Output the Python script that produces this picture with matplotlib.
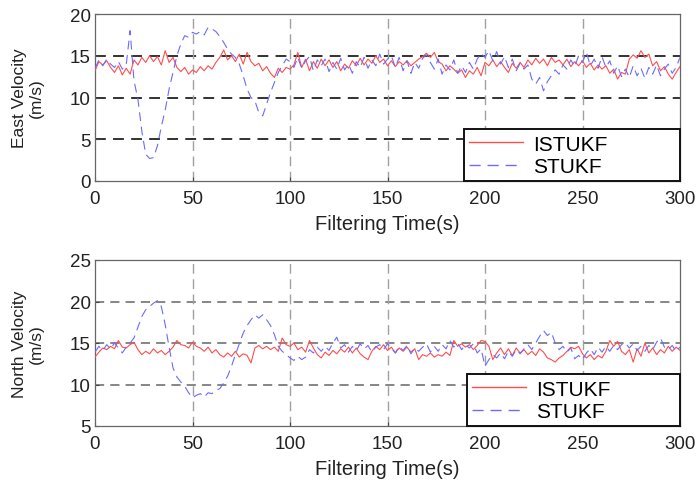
import numpy as np
import matplotlib
matplotlib.use("Agg")
import matplotlib.pyplot as plt

plt.rcParams['font.family'] = ['Liberation Sans', 'DejaVu Sans']

# time axis (s), sampled every 2 s
time_s = list(range(0, 301, 2))

east_istukf = [
    13.2, 14.3, 13.9, 14.4, 13.6, 13.0, 13.8, 12.7, 13.5, 12.8,
    14.5, 13.9, 14.8, 14.2, 15.0, 14.3, 14.9, 13.9, 15.6, 14.2,
    14.8, 13.6, 13.1, 13.6, 12.8, 13.3, 13.0, 13.7, 13.2, 13.8,
    13.4, 14.2, 14.8, 15.7, 14.5, 15.0, 14.3, 15.2, 14.0, 15.4,
    14.3, 13.8, 14.1, 13.2, 13.7, 12.9, 12.4, 13.5, 13.0, 13.6,
    13.4, 13.9, 15.4, 13.6, 14.6, 13.2, 14.3, 13.5, 14.6, 13.8,
    14.5, 13.6, 14.3, 13.2, 14.0, 13.5, 14.4, 13.8, 14.7, 13.9,
    14.6, 14.1, 15.0, 14.2, 14.6, 13.8, 14.4, 13.7, 14.3, 13.9,
    14.4, 13.8, 14.2, 14.6, 14.9, 15.3, 14.8, 15.4, 14.3, 14.0,
    13.2, 13.8, 13.4, 12.9, 13.3, 12.4, 13.2, 12.8, 13.6, 12.6,
    14.2, 13.8, 14.5, 13.7, 14.3, 13.6, 13.0, 14.1, 13.5, 14.2,
    13.6, 14.5, 13.9, 14.7, 14.1, 14.6, 13.8, 14.8, 14.2, 14.5,
    13.9, 14.6, 13.7, 14.3, 13.8, 14.4, 13.6, 14.1, 13.3, 13.9,
    13.4, 13.8, 12.9, 13.4, 12.2, 13.0, 12.8, 14.6, 15.1, 14.7,
    15.6, 14.8, 15.2, 13.8, 14.3, 13.2, 13.7, 12.8, 12.2, 13.0, 13.7,
]

east_stukf = [
    13.5, 14.5, 13.8, 14.6, 14.0, 13.6, 14.3, 13.4, 13.9, 18.0,
    12.0, 9.8, 6.0, 3.2, 2.7, 2.8, 4.2, 6.5, 8.5, 11.0,
    13.0, 15.0, 16.4, 17.4, 17.2, 17.8, 17.6, 17.9, 17.5, 18.4,
    18.2, 17.9, 17.3, 16.6, 15.8, 15.2, 14.8, 14.0, 12.6, 11.0,
    10.0, 9.6, 8.2, 7.8, 9.2, 10.6, 11.8, 13.0, 13.8, 14.6,
    14.3, 13.6, 14.8, 13.5, 14.4, 14.9, 13.2, 14.5, 13.8, 14.6,
    13.1, 14.2, 13.4, 14.7, 13.3, 14.0, 12.9, 14.3, 13.6, 14.8,
    13.5, 14.5, 13.8, 15.2, 14.0, 14.6, 15.0, 13.6, 14.8, 13.2,
    14.4, 12.9, 14.2, 13.5, 14.7, 15.1, 14.2, 13.4, 14.6, 12.8,
    13.9, 13.3, 14.5, 12.9, 13.8, 13.0, 14.2, 13.4, 14.6, 15.3,
    14.8, 15.6, 14.4, 15.5, 14.0, 14.9, 13.6, 14.6, 13.2, 14.1,
    13.4, 13.9, 12.2, 11.6, 12.4, 10.8, 11.9, 12.6, 13.3, 12.8,
    13.9, 13.4, 14.5, 13.7, 15.0, 14.2, 15.4, 13.8, 14.6, 13.5,
    14.9, 13.6, 14.4, 12.9, 13.8, 12.5, 13.4, 12.4, 13.8, 12.6,
    13.5, 12.3, 13.6, 12.8, 13.9, 12.6, 13.4, 14.0, 12.9, 13.6, 14.8,
]

north_istukf = [
    13.3, 13.9, 14.4, 14.2, 14.6, 14.3, 15.3, 14.5, 14.4, 14.8,
    15.1, 14.2, 13.6, 14.0, 13.7, 14.3, 13.8, 14.1, 13.6, 14.0,
    14.5, 15.3, 14.8, 14.7, 14.4, 15.1, 14.6, 14.4, 14.0, 14.5,
    13.8, 14.2, 13.6, 13.3, 13.8, 13.4, 14.0, 13.3, 13.7, 13.5,
    12.6, 14.4, 14.7, 14.3, 14.6, 14.2, 14.5, 14.0, 15.6, 14.8,
    14.6, 15.0, 14.2, 14.5, 13.9, 15.3, 14.4, 13.6, 13.2, 13.9,
    13.5, 14.1, 13.7, 14.3, 13.9, 14.5, 13.8, 14.4, 13.7, 13.3,
    13.0, 14.0, 14.6, 14.2, 14.8, 14.1, 14.5, 13.8, 14.4, 14.0,
    14.5, 13.9, 14.3, 13.0, 13.6, 13.4, 13.8, 13.3, 13.6, 13.4,
    13.9, 13.5, 15.3, 14.6, 14.9, 14.5, 14.8, 14.2, 14.7, 15.3,
    15.2, 14.6, 13.0, 13.8, 14.4, 13.6, 14.3, 13.5, 14.4, 13.8,
    14.2, 13.6, 14.0, 13.5, 14.3, 13.9, 13.2, 13.0, 12.7, 13.2,
    13.5, 14.0, 14.5, 14.3, 14.6, 13.7, 13.2, 13.6, 13.0, 13.5,
    13.2, 14.0, 15.3, 14.6, 15.2, 14.0, 13.6, 14.2, 12.7, 14.3,
    13.4, 15.0, 13.8, 14.4, 13.6, 14.2, 13.8, 14.6, 14.0, 14.5, 14.1,
]

north_stukf = [
    13.9, 14.6, 14.1, 14.8, 14.3, 15.0, 14.4, 13.8, 14.5, 15.0,
    15.6, 16.9, 18.2, 19.0, 19.4, 19.8, 20.1, 19.4, 17.2, 14.5,
    12.0, 10.9, 10.3, 9.8, 9.0, 8.4, 8.7, 8.9, 8.5, 9.0,
    8.9, 9.3, 9.5, 10.2, 11.0, 12.2, 13.6, 14.9, 16.2, 17.1,
    17.8, 18.4, 18.0, 18.4, 17.8, 17.1, 16.0, 14.6, 14.0, 13.6,
    13.2, 12.9, 13.4, 13.0, 13.3, 14.2, 13.8, 14.5, 14.0, 14.6,
    14.1, 15.0, 15.7, 14.4, 14.8, 13.9, 14.6, 14.1, 14.9, 14.3,
    14.7, 13.9, 14.5, 14.8, 14.2, 14.9, 14.4, 13.8, 14.6, 14.1,
    14.7, 13.7, 14.4, 14.0, 14.5, 14.9, 13.9, 14.6, 14.0, 14.8,
    14.3, 15.3, 14.5, 15.0, 14.2, 14.8, 14.4, 14.9, 13.8, 14.3,
    12.2, 13.0, 13.6, 13.2, 13.8, 13.1, 14.0, 13.4, 14.2, 13.7,
    14.3, 14.8, 14.2, 15.0, 15.8, 16.5, 15.9, 16.3, 15.0, 14.2,
    14.6, 13.9, 14.4, 13.1, 13.5, 13.0, 13.8, 14.3, 13.6, 14.5,
    13.9, 14.6, 14.0, 14.7, 14.2, 14.8, 15.0, 14.4, 14.9, 14.1,
    14.6, 14.0, 14.7, 14.2, 15.1, 15.6, 14.5, 14.2, 14.7, 14.0, 14.5,
]

series_labels = ["ISTUKF", "STUKF"]
x_ticks = [0, 50, 100, 150, 200, 250, 300]
east_yticks = [0, 5, 10, 15, 20]
north_yticks = [5, 10, 15, 20, 25]
x_label = "Filtering Time(s)"
east_ylabel = "East Velocity\n(m/s)"
north_ylabel = "North Velocity\n(m/s)"

fig = plt.figure(figsize=(7.0, 4.81), dpi=100)
ax1 = fig.add_axes([95/700, 1-182/481, 585/700, 167/481])
ax2 = fig.add_axes([95/700, 1-427/481, 585/700, 166/481])

red = '#ff4d4d'
blue = '#6b6bff'

def style(ax, yticks, ylabel, hgrid_color, hgrid_lw):
    ax.set_xlim(0, 300)
    ax.set_ylim(yticks[0], yticks[-1])
    ax.set_xticks(x_ticks)
    ax.set_yticks(yticks)
    ax.tick_params(direction='in', length=3, width=0.8, colors='#444444',
                   labelcolor='#222222', labelsize=13.5)
    ax.tick_params(axis='x', pad=6.5)
    ax.tick_params(axis='y', pad=3)
    for sp in ax.spines.values():
        sp.set_color('#666666')
        sp.set_linewidth(0.9)
    for yv in yticks[1:-1]:
        ax.axhline(yv, color=hgrid_color, lw=hgrid_lw, dashes=(6, 4), zorder=1)
    for xv in x_ticks[1:-1]:
        ax.axvline(xv, color='#a0a0a0', lw=1.0, dashes=(7, 4), zorder=1)
    ax.set_xlabel(x_label, fontsize=14.5, color='#222222', labelpad=5)
    ax.set_ylabel(ylabel, fontsize=12.5, color='#222222', labelpad=19,
                  linespacing=1.1)

def draw(ax, s1, s2, x0):
    ax.plot(time_s, s1, color=red, lw=0.8, label=series_labels[0], zorder=3)
    ax.plot(time_s, s2, color=blue, lw=0.8, dashes=(8, 5),
            label=series_labels[1], zorder=4)
    leg = ax.legend(loc='lower left', bbox_to_anchor=(x0, 0.0, 1.0 - x0, 0.3),
                    mode='expand', fontsize=15, frameon=True, fancybox=False,
                    borderaxespad=0.0, handlelength=2.6, handletextpad=0.45,
                    borderpad=0.25, labelspacing=0.15, framealpha=1)
    leg.get_frame().set_edgecolor('#111111')
    leg.get_frame().set_linewidth(1.4)
    for line in leg.get_lines():
        line.set_linewidth(1.0)
    leg.set_zorder(10)

draw(ax1, east_istukf, east_stukf, (464 - 95) / 585)
draw(ax2, north_istukf, north_stukf, (467 - 95) / 585)
style(ax1, east_yticks, east_ylabel, '#222222', 1.3)
style(ax2, north_yticks, north_ylabel, '#666666', 1.1)

fig.savefig("out.png", dpi=100)
